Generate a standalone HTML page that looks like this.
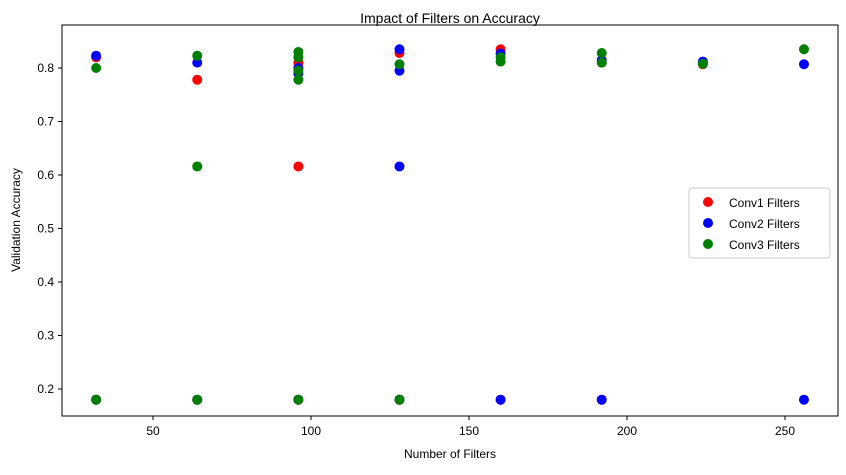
<!DOCTYPE html>
<html><head><meta charset="utf-8"><style>
body{margin:0;background:#fff}
svg{font-family:"Liberation Sans","DejaVu Sans",sans-serif}
</style></head><body>
<svg id="chart" width="846" height="470">
<rect x="0" y="0" width="846" height="470" fill="#fff"/>
<text x="450" y="23" text-anchor="middle" font-size="14">Impact of Filters on Accuracy</text>
<g id="pts"></g>
<rect x="62" y="25" width="776" height="391" fill="none" stroke="#000" stroke-width="1"/>
<g id="xt"></g>
<g id="yt"></g>
<text x="450" y="458" text-anchor="middle" font-size="12">Number of Filters</text>
<text transform="translate(20,220) rotate(-90)" text-anchor="middle" font-size="12">Validation Accuracy</text>
<g>
<rect x="689" y="188" width="141" height="70" rx="3" fill="#fff" fill-opacity="0.8" stroke="#ccc"/>
<circle cx="708" cy="202" r="5" fill="red"/>
<text x="729" y="207" font-size="12">Conv1 Filters</text>
<circle cx="708" cy="223" r="5" fill="blue"/>
<text x="729" y="228" font-size="12">Conv2 Filters</text>
<circle cx="708" cy="244" r="5" fill="green"/>
<text x="729" y="249" font-size="12">Conv3 Filters</text>
</g>
</svg>
<script>
const conv1X=[32,32,64,64,96,96,96,96,128,128,160,160,192,192,224];
const conv1Y=[0.82,0.18,0.778,0.18,0.81,0.80,0.616,0.18,0.828,0.18,0.835,0.18,0.81,0.18,0.807];
const conv2X=[32,32,64,64,96,96,96,128,128,128,128,160,160,192,192,224,256,256];
const conv2Y=[0.823,0.18,0.81,0.18,0.80,0.79,0.18,0.835,0.795,0.616,0.18,0.827,0.18,0.815,0.18,0.812,0.807,0.18];
const conv3X=[32,32,64,64,64,96,96,96,96,96,128,128,160,160,192,192,224,256];
const conv3Y=[0.80,0.18,0.823,0.616,0.18,0.83,0.82,0.795,0.778,0.18,0.807,0.18,0.82,0.812,0.828,0.81,0.808,0.835];
const xTicks=[50,100,150,200,250];
const yTicks=[0.2,0.3,0.4,0.5,0.6,0.7,0.8];
const NS="http://www.w3.org/2000/svg";
function sx(v){return 153+(v-50)*3.16;}
function sy(v){return 68+(0.8-v)*535;}
const pts=document.getElementById('pts');
[[conv1X,conv1Y,'red','conv1'],[conv2X,conv2Y,'blue','conv2'],[conv3X,conv3Y,'green','conv3']].forEach(s=>{
  s[0].forEach((x,i)=>{
    const c=document.createElementNS(NS,'circle');
    c.setAttribute('cx',sx(x));c.setAttribute('cy',sy(s[1][i]));c.setAttribute('r',5);c.setAttribute('fill',s[2]);
    
    
    pts.appendChild(c);
  });
});
const xt=document.getElementById('xt');
xTicks.forEach(t=>{
  const l=document.createElementNS(NS,'line');
  l.setAttribute('x1',sx(t));l.setAttribute('x2',sx(t));l.setAttribute('y1',416);l.setAttribute('y2',420);l.setAttribute('stroke','#000');
  
  
  xt.appendChild(l);
  const tx=document.createElementNS(NS,'text');
  tx.setAttribute('x',sx(t));tx.setAttribute('y',435);tx.setAttribute('text-anchor','middle');tx.setAttribute('font-size','12');
  tx.textContent=t;
  
  
  xt.appendChild(tx);
});
const yt=document.getElementById('yt');
yTicks.forEach(t=>{
  const l=document.createElementNS(NS,'line');
  l.setAttribute('x1',58);l.setAttribute('x2',62);l.setAttribute('y1',sy(t));l.setAttribute('y2',sy(t));l.setAttribute('stroke','#000');
  
  
  yt.appendChild(l);
  const tx=document.createElementNS(NS,'text');
  tx.setAttribute('x',54);tx.setAttribute('y',sy(t)+4);tx.setAttribute('text-anchor','end');tx.setAttribute('font-size','12');
  tx.textContent=t.toFixed(1);
  
  
  yt.appendChild(tx);
});
</script>
</body></html>
